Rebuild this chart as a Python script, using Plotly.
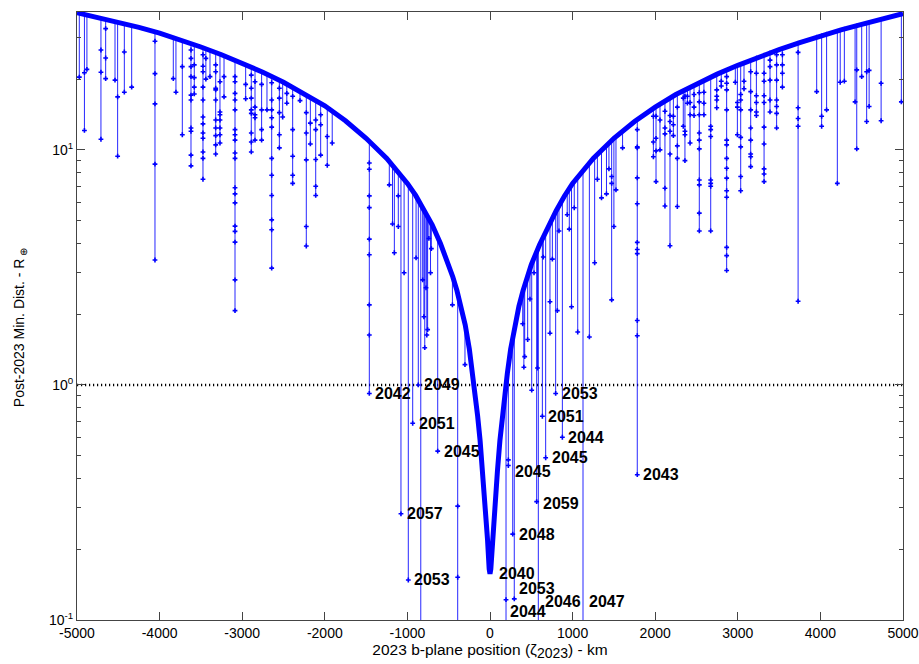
import numpy as np
import plotly.graph_objects as go

# ---------------- data ----------------
# upper envelope of the post-2023 minimum distance curve (km, Earth radii)
env_x = [-5000, -4750, -4500, -4250, -4000, -3750, -3500, -3250, -3000, -2750, -2500,
         -2250, -2000, -1750, -1500, -1250, -1000, -900, -800, -700, -600, -500,
         -450, -400, -350, -300, -250, -210, -180, -150, -120, -90, -60, -30, -10, 0,
         10, 30, 60, 90, 120, 150, 180, 210, 250, 300, 350, 400, 450, 500, 600, 700,
         800, 900, 1000, 1250, 1500, 1750, 2000, 2250, 2500, 2750, 3000, 3250, 3500,
         3750, 4000, 4250, 4500, 4750, 5000]
env_y = [38.3, 36.6, 34.9, 33.2, 31.4, 29.4, 27.4, 25.4, 23.4, 21.4, 19.4,
         17.4, 15.4, 13.3, 11.2, 9.2, 7.2, 6.4, 5.6, 4.8, 4.0, 3.25,
         2.88, 2.52, 2.16, 1.8, 1.42, 1.12, 0.93, 0.74, 0.58, 0.43, 0.31, 0.22, 0.165, 0.157,
         0.165, 0.22, 0.31, 0.43, 0.58, 0.74, 0.93, 1.12, 1.42, 1.8, 2.16, 2.52, 2.88, 3.25, 3.95, 4.7,
         5.5, 6.35, 7.2, 9.2, 11.2, 13.2, 15.2, 17.2, 19.1, 21.0, 22.9, 24.8, 26.7,
         28.6, 30.5, 32.4, 34.2, 36.1, 38.0]

# keyhole spikes: position, value where the spike leaves the envelope, close-approach values down the spike
spike_x = [-4972, -4910, -4880, -4710, -4653, -4540, -4508, -4427, -4338, -4056,
           -3834, -3802, -3725, -3620, -3580, -3475, -3440, -3390, -3321, -3269,
           -3220, -3087, -2958, -2890, -2845, -2765, -2700, -2643, -2550, -2510,
           -2460, -2389, -2300, -2224, -2175, -2110, -2050, -1970, -1910,
           -1461, -1219, -1180, -1158, -1110, -1078, -1040, -989, -936, -895, -868,
           -838, -815, -800, -790, -775, -765, -755, -740, -720, -710, -633, -455, -391, -303,
           194, 222, 275, 294, 396, 410, 420, 456, 484, 505, 533, 565, 575, 585, 634, 645,
           674, 726, 755, 795, 815, 835, 876, 935, 960, 987, 1020, 1062, 1126, 1203, 1267,
           1300, 1350, 1410, 1440, 1473, 1500, 1525, 1605, 1783, 1978, 2010, 2058, 2118,
           2179, 2220, 2268, 2340, 2360, 2390, 2422, 2470, 2534, 2590, 2672, 2745, 2800,
           2865, 2970, 2995, 3035, 3075, 3156, 3225, 3318, 3390, 3470, 3540, 3730, 3955,
           4015, 4075, 4205, 4240, 4290, 4420, 4440, 4500, 4560, 4590, 4735, 4980]
spike_top = [38.1, 37.6, 37.4, 36.2, 35.8, 35.0, 34.8, 34.2, 33.6, 31.6,
             29.9, 29.6, 29.0, 28.2, 27.9, 27.1, 26.8, 26.4, 25.9, 25.4,
             25.0, 24.0, 23.0, 22.4, 22.1, 21.5, 21.0, 20.5, 19.8, 19.5,
             19.0, 18.4, 17.6, 17.0, 16.5, 16.0, 15.6, 15.0, 14.5,
             11.0, 9.0, 8.7, 8.5, 8.1, 7.8, 7.5, 7.1, 6.7, 6.3, 6.1,
             5.9, 5.7, 5.6, 5.5, 5.4, 5.3, 5.2, 5.1, 4.95, 4.85, 4.25, 2.95, 2.5, 1.85,
             1.0, 1.22, 1.6, 1.75, 2.45, 2.55, 2.6, 2.9, 3.1, 3.25, 3.45, 3.7, 3.8, 3.85, 4.25, 4.35,
             4.6, 4.95, 5.2, 5.5, 5.6, 5.8, 6.1, 6.6, 6.8, 7.0, 7.3, 7.6, 8.1, 8.8, 9.3,
             9.5, 9.9, 10.4, 10.6, 10.9, 11.1, 11.3, 11.9, 13.3, 14.9, 15.1, 15.5, 16.0,
             16.5, 16.8, 17.2, 17.8, 18.0, 18.2, 18.5, 18.9, 19.4, 19.9, 20.6, 21.2, 21.6,
             22.2, 23.0, 23.2, 23.6, 23.9, 24.6, 25.2, 25.9, 26.5, 27.1, 27.6, 29.1, 30.9,
             31.3, 31.8, 32.7, 33.0, 33.4, 34.3, 34.5, 34.9, 35.3, 35.5, 36.5, 38.1]
spike_pts = [
    [20.4], [21.3, 12.1], [22.0], [26.6, 21.4, 11.1], [32.8, 24.6, 20.1], [19.8], [16.8, 9.4],
    [26.1, 17.6], [18.5], [29.0, 21.1, 15.7, 8.7, 3.4],
    [20.1], [17.6], [22.6, 11.6], [26.6, 24.5, 22.6, 20.5, 17.1, 16.3, 12.4, 12.0, 9.5, 8.55],
    [23.0, 20.3, 18.5, 17.3],
    [25.4, 22.7, 21.5, 18.5, 16.3, 13.8, 12.9, 11.8, 11.2, 9.8, 9.2, 7.5],
    [24.5, 20.0], [20.5], [23.0, 21.5, 18.3, 18.0, 16.3, 13.4, 12.4, 11.5, 10.5, 9.6],
    [19.5, 14.5, 14.1, 13.4, 12.4, 11.6, 10.7],
    [20.5, 16.8],
    [20.5, 19.5, 17.4, 16.3, 14.8, 12.2, 11.6, 11.0, 9.7, 9.2, 6.9, 6.5, 5.95, 4.74, 4.5, 4.05, 2.8, 2.07],
    [19.0, 16.5], [20.8, 18.3, 16.6, 14.8, 14.3, 11.8, 10.8, 9.8], [19.5, 15.2, 14.1, 13.7, 11.0],
    [19.0, 14.8, 12.2, 11.0], [14.8],
    [19.3, 16.3, 14.8, 13.7, 12.5, 9.2, 7.8, 6.4, 5.04, 4.57, 3.14],
    [18.3, 16.6, 14.4, 11.6, 10.2], [13.8],
    [17.4, 15.8], [16.9, 12.2, 9.4, 7.8, 7.2], [16.2], [14.4, 11.8, 9.07, 4.72, 3.9],
    [13.0, 10.6], [13.4, 12.2, 9.1, 7.0, 6.4], [14.1, 12.8, 9.5], [11.4, 8.6], [10.7],
    [8.8, 8.27, 6.37, 5.68, 4.17, 3.58, 2.19, 1.63, 0.92], [7.1], [4.84], [3.65], [6.37, 4.72],
    [0.283], [3.0], [0.148], [0.687], [3.47], [1.0],
    [0.05], [2.8], [1.95], [1.44], [2.59], [1.63], [1.72], [4.2], [3.0], [3.8], [0.523], [2.19],
    [0.305, 0.152, 0.05], [1.22],
    [0.122, 0.05], [0.48, 0.454], [0.232], [0.123], [1.82], [1.19], [1.32], [1.56], [2.32], [0.95],
    [3.0], [0.319], [1.18], [0.05], [0.736], [3.5],
    [0.49], [2.26, 1.66], [3.43], [0.92], [2.07], [4.52], [0.599], [5.3], [4.6], [2.15], [5.67],
    [1.68], [0.05], [1.6], [3.31],
    [7.5], [6.25], [6.5], [8.3], [7.7, 7.2, 2.3], [4.72], [6.76], [10.2],
    [12.2, 10.3, 10.2, 7.6, 5.9, 4.04, 3.77, 3.62, 1.88, 1.62, 0.415],
    [13.9, 10.8, 9.35], [13.9, 11.2, 9.9, 7.33], [13.4, 10.0], [14.6, 12.4, 11.7, 6.87, 5.77],
    [14.0, 13.2, 12.0, 9.6, 3.91], [13.9, 12.8, 11.5], [15.2, 10.4, 9.2, 5.74], [16.6, 12.6],
    [16.9, 12.0, 11.6, 9.0], [16.9, 15.8], [15.9, 14.1, 10.7], [17.2, 15.2, 14.0],
    [17.5, 16.0, 14.1, 11.8, 11.0, 10.1, 7.45, 7.1, 5.38, 4.52], [17.6, 15.8, 14.1],
    [12.6, 12.2, 11.4, 7.45, 7.2, 7.0, 4.52], [18.0, 16.9, 16.3, 15.1], [19.6, 18.7],
    [20.5, 19.2, 18.0, 14.8, 11.0, 10.5, 9.2, 8.35, 7.58, 6.7, 6.29, 3.85, 3.55, 3.07],
    [19.4], [15.9, 15.2, 11.6], [17.2, 16.3, 14.8, 11.3, 10.3, 7.7, 6.7], [19.6, 18.2],
    [21.5, 17.7, 14.8, 12.4, 11.0, 9.6, 9.35, 8.49], [21.2, 17.0, 15.9, 14.5, 14.0],
    [21.2, 19.6, 17.0, 15.9, 12.5, 10.6, 8.3, 7.9, 7.33], [24.1, 22.6, 19.8, 16.3, 14.5],
    [25.4, 23.0, 19.8, 16.3, 15.3, 14.3, 12.4], [25.4, 23.0, 21.2, 18.5],
    [26.0, 15.1, 13.6, 12.6, 2.27], [17.7], [13.9, 12.6], [14.8], [7.2], [19.4], [19.6],
    [16.0], [21.9, 10.1], [20.5], [21.5, 13.2], [21.8, 15.3], [19.2, 13.3], [16.0],
]

# year labels of the close approaches below one Earth radius
label_text = ["2042", "2049", "2051", "2045", "2057", "2053", "2040", "2053", "2051", "2044",
              "2045", "2045", "2059", "2048", "2043", "2053", "2044", "2046", "2047"]
label_x = [-1461, -868, -936, -633, -1078, -989, 0, 795, 634, 876,
           674, 222, 565, 275, 1783, 294, 194, 585, 1126]
label_y = [0.92, 1.0, 0.687, 0.523, 0.283, 0.148, 0.157, 0.92, 0.736, 0.599,
           0.49, 0.454, 0.319, 0.232, 0.415, 0.123, 0.122, 0.12, 0.12]

x_ticks = [-5000, -4000, -3000, -2000, -1000, 0, 1000, 2000, 3000, 4000, 5000]
y_ticks = [0.1, 1, 10]
y_ticktext = ["10<sup>-1</sup>", "10<sup>0</sup>", "10<sup>1</sup>"]

x_title = "2023 b-plane position (ζ<sub><span style='font-size:14px'>2023</span></sub>) - km"
y_title = "Post-2023 Min. Dist. - R<sub> ⊕</sub>"

# label offsets in pixels (style)
label_dx = [4, 4, 4, 4, 4, 4, 7, 4, 4, 4, 4, 5, 4, 4, 4, 3, 2, 5, 4]
label_dy = [0, 0, 0, 0, 0, 0, 0, 0, 0, 0, 0, -6, -2, 0, 0, 10, -12, 0, 0]

# ---------------- build ----------------
line_x, line_y, mk_x, mk_y = [], [], [], []
for sx, top, pts in zip(spike_x, spike_top, spike_pts):
    line_x += [sx, sx, None]
    line_y += [top, min(pts), None]
    for p in pts:
        mk_x.append(sx)
        mk_y.append(p)

FONT = "Liberation Sans, Arial, Helvetica, sans-serif"
BLUE = "rgb(0,0,255)"
fig = go.Figure()
fig.add_trace(go.Scatter(x=[x_ticks[0], x_ticks[-1]], y=[1, 1], mode="lines",
                         line=dict(color="black", width=2.5, dash="1.2px,2.8px"),
                         hoverinfo="skip", showlegend=False))
fig.add_trace(go.Scatter(x=line_x, y=line_y, mode="lines",
                         line=dict(color="rgba(0,0,255,0.85)", width=1),
                         showlegend=False))
fig.add_trace(go.Scatter(x=mk_x, y=mk_y, mode="markers",
                         marker=dict(color=BLUE, size=4, symbol="cross"),
                         showlegend=False))
fig.add_trace(go.Scatter(x=env_x, y=env_y, mode="lines",
                         line=dict(color=BLUE, width=5),
                         showlegend=False))

for t, lx, ly, dx, dy in zip(label_text, label_x, label_y, label_dx, label_dy):
    fig.add_annotation(x=lx, y=np.log10(ly), text=t, showarrow=False,
                       xanchor="left", yanchor="middle", xshift=dx, yshift=dy,
                       font=dict(family=FONT, size=16, color="black", weight="bold"))

# y-axis title (placed as rotated text to the left of the tick labels)
fig.add_annotation(xref="paper", yref="paper", x=-0.069, y=0.48, text=y_title,
                   textangle=-90, showarrow=False, xanchor="center", yanchor="middle",
                   font=dict(family=FONT, size=14, color="black"))

axis_common = dict(showline=True, linecolor="#444", linewidth=1, mirror="ticks",
                   ticks="inside", ticklen=8, tickcolor="#444", showgrid=False, zeroline=False,
                   automargin=False,
                   tickfont=dict(family=FONT, size=14, color="black"))

fig.update_xaxes(range=[-5000, 5000], tickvals=x_ticks,
                 ticktext=[str(v) for v in x_ticks],
                 title=dict(text=x_title,
                            font=dict(family=FONT, size=15.5, color="black"),
                            standoff=0),
                 **axis_common)
fig.update_yaxes(type="log", range=[-1, 1.5866], tickvals=y_ticks, ticktext=y_ticktext,
                 minor=dict(ticks="inside", ticklen=4, tickcolor="#444", dtick="D1", showgrid=False),
                 **axis_common)

fig.update_layout(width=919, height=664, margin=dict(l=77, r=16, t=12, b=44),
                  plot_bgcolor="white", paper_bgcolor="white", showlegend=False)

fig.write_html("out.html", config={"displayModeBar": False},
               post_script="document.body.style.margin='0px';document.body.style.overflow='hidden';")
